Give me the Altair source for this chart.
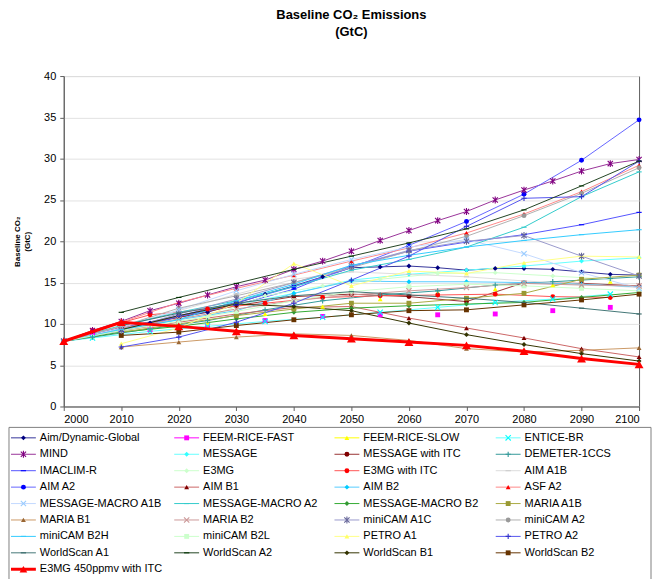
import altair as alt
import pandas as pd

# ---------------- data ----------------
Y10 = [2000, 2010, 2020, 2030, 2040, 2050, 2060, 2070, 2080, 2090, 2100]
Y10_2010 = [2010, 2020, 2030, 2040, 2050, 2060, 2070, 2080, 2090, 2100]
Y5 = [2000, 2005, 2010, 2015, 2020, 2025, 2030, 2035, 2040, 2045, 2050,
      2055, 2060, 2065, 2070, 2075, 2080, 2085, 2090, 2095, 2100]
Y_ODD = [2005, 2015, 2025, 2035, 2045, 2055, 2065, 2075, 2085, 2095]
Y_ODD0 = [2000, 2005, 2015, 2025, 2035, 2045, 2055, 2065, 2075, 2085, 2095]
Y_DEM = [2000, 2005, 2015, 2025, 2035, 2045, 2055, 2065, 2075, 2085, 2095, 2100]

aim_dynamic = [7.9, 8.8, 9.4, 10.1, 10.8, 11.4, 12.5, 13.6, 14.6, 15.7, 16.8,
               16.9, 17.0, 16.8, 16.5, 16.7, 16.7, 16.6, 16.3, 16.0, 15.9]
feem_fast = [8.6, 9.3, 9.8, 10.4, 10.9, 11.1, 11.1, 11.2, 11.6, 12.0]
feem_slow = [8.5, 9.5, 10.1, 11.2, 12.1, 13.0, 13.8, 14.2, 14.7, 15.1]
entice = [7.9, 8.3, 9.1, 9.7, 10.3, 10.8, 11.4, 12.0, 12.6, 13.0, 13.6]
mind = [7.9, 9.2, 10.3, 11.6, 12.5, 13.5, 14.5, 15.3, 16.6, 17.6, 18.8,
        20.1, 21.3, 22.5, 23.6, 25.0, 26.2, 27.3, 28.5, 29.4, 29.9]
message = [7.9, 9.4, 10.9, 12.3, 13.7, 15.3, 16.0, 16.5, 17.0, 17.6, 18.0]
message_itc = [7.9, 9.6, 10.8, 12.2, 13.3, 13.6, 13.3, 12.7, 15.0, 14.9, 14.6]
demeter = [7.9, 8.4, 9.4, 10.4, 11.7, 12.8, 13.5, 14.0, 14.7, 15.1, 15.5, 15.7]
imaclim = [7.9, 9.1, 10.9, 12.3, 14.2, 17.0, 18.8, 19.9, 20.8, 22.0, 23.5]
e3mg = [7.9, 8.5, 9.7, 10.8, 13.4, 14.6, 15.4, 16.1, 16.2, 15.8, 15.4]
e3mg_itc = [7.9, 9.2, 11.1, 11.8, 12.5, 13.2, 13.4, 13.5, 13.6, 13.3, 13.2]
aim_a1b = [7.9, 9.7, 11.6, 13.6, 15.4, 16.3, 16.0, 15.7, 15.2, 14.8, 14.4]
aim_a2 = [7.9, 9.5, 11.0, 12.6, 14.5, 16.8, 19.5, 22.4, 25.7, 29.8, 34.7]
aim_b1 = [7.9, 9.2, 10.2, 11.2, 12.0, 12.1, 10.7, 9.5, 8.3, 7.0, 6.0]
aim_b2 = [7.9, 9.3, 10.5, 11.6, 13.7, 15.2, 15.1, 15.1, 15.0, 14.8, 14.5]
asf_a2 = [7.9, 10.2, 12.6, 14.3, 15.9, 17.6, 19.2, 21.0, 23.3, 26.0, 29.2]
mm_a1b = [7.9, 9.5, 11.7, 14.0, 16.0, 17.8, 19.3, 20.2, 18.5, 16.2, 14.3]
mm_a2 = [7.9, 9.8, 11.4, 12.8, 14.5, 16.5, 17.8, 19.3, 21.7, 25.4, 28.4]
mm_b2 = [7.9, 9.0, 9.7, 10.6, 11.4, 11.9, 12.2, 12.4, 12.6, 13.2, 13.8]
maria_a1b = [9.0, 10.0, 11.0, 11.8, 12.5, 12.5, 13.1, 13.7, 15.4, 15.9]
maria_b1 = [7.2, 7.8, 8.4, 8.8, 8.6, 8.0, 7.0, 6.6, 6.8, 7.1]
maria_b2 = [9.5, 10.6, 11.8, 12.8, 13.5, 14.0, 14.4, 14.9, 14.7, 14.6]
minicam_a1c = [7.9, 9.2, 11.2, 13.0, 15.0, 17.0, 18.9, 20.0, 20.7, 18.2, 15.8]
minicam_a2 = [7.9, 9.7, 11.9, 13.4, 15.0, 16.8, 18.8, 20.6, 23.1, 25.8, 28.9]
minicam_b2h = [7.9, 9.3, 10.5, 12.8, 14.8, 17.1, 18.3, 19.3, 20.1, 20.8, 21.4]
minicam_b2l = [7.9, 9.2, 10.3, 11.5, 12.8, 13.9, 14.5, 14.8, 14.6, 14.3, 14.0]
petro_a1 = [7.6, 9.5, 12.5, 17.3, 14.6, 16.4, 16.1, 17.4, 18.2, 18.1]
petro_a2 = [7.2, 8.4, 10.2, 12.5, 15.3, 18.2, 21.8, 25.2, 25.4, 29.7]
ws_a1 = [9.8, 11.3, 12.5, 13.4, 13.9, 13.5, 13.1, 12.6, 11.9, 11.2]
ws_a2 = [11.4, 13.2, 14.9, 16.6, 18.2, 19.8, 21.5, 23.8, 26.7, 29.7]
ws_b1 = [9.3, 11.0, 12.4, 12.1, 11.6, 10.1, 8.7, 7.5, 6.4, 5.5]
ws_b2 = [8.6, 9.0, 9.8, 10.5, 11.1, 11.6, 11.7, 12.3, 12.9, 13.6]
e3mg_450 = [7.9, 10.2, 9.7, 9.1, 8.6, 8.2, 7.8, 7.4, 6.7, 5.8, 5.1]

NAMES = ["Aim/Dynamic-Global", "FEEM-RICE-FAST", "FEEM-RICE-SLOW", "ENTICE-BR",
         "MIND", "MESSAGE", "MESSAGE with ITC", "DEMETER-1CCS",
         "IMACLIM-R", "E3MG", "E3MG with ITC", "AIM A1B",
         "AIM A2", "AIM B1", "AIM B2", "ASF A2",
         "MESSAGE-MACRO A1B", "MESSAGE-MACRO A2", "MESSAGE-MACRO B2", "MARIA A1B",
         "MARIA B1", "MARIA B2", "miniCAM A1C", "miniCAM A2",
         "miniCAM B2H", "miniCAM B2L", "PETRO A1", "PETRO A2",
         "WorldScan A1", "WorldScan A2", "WorldScan B1", "WorldScan B2",
         "E3MG 450ppmv with ITC"]
YEARS = [Y5, Y_ODD, Y_ODD, Y_ODD0,
         Y5, Y10, Y10, Y_DEM,
         Y10, Y_ODD0, Y_ODD0, Y10,
         Y10, Y10, Y10, Y10,
         Y10, Y10, Y10, Y10_2010,
         Y10_2010, Y10_2010, Y10, Y10,
         Y10, Y10, Y10_2010, Y10_2010,
         Y10_2010, Y10_2010, Y10_2010, Y10_2010,
         Y10]
VALUES = [aim_dynamic, feem_fast, feem_slow, entice,
          mind, message, message_itc, demeter,
          imaclim, e3mg, e3mg_itc, aim_a1b,
          aim_a2, aim_b1, aim_b2, asf_a2,
          mm_a1b, mm_a2, mm_b2, maria_a1b,
          maria_b1, maria_b2, minicam_a1c, minicam_a2,
          minicam_b2h, minicam_b2l, petro_a1, petro_a2,
          ws_a1, ws_a2, ws_b1, ws_b2,
          e3mg_450]

# ---------------- styles ----------------
X_PATH = "M-1,-1L1,1M-1,1L1,-1"
PLUS_PATH = "M-1,0L1,0M0,-1L0,1"
STAR_PATH = "M-1,-1L1,1M-1,1L1,-1M0,-1.3L0,1.3"
DASH_PATH = "M-1,0L1,0"

LINE_COLORS = ["#333399", "#ff00ff", "#ffff00", "#66ffff",
               "#993399", "#66ffff", "#993333", "#339999",
               "#5555ff", "#ccffcc", "#ff5555", "#dddddd",
               "#6666ff", "#cc6666", "#55ccff", "#ff8888",
               "#c4daff", "#33cccc", "#33aa33", "#aaaa44",
               "#cc9966", "#cc9999", "#9999cc", "#b0b0b0",
               "#33ccff", "#ccffcc", "#ffff88", "#5555ee",
               "#447777", "#224422", "#333300", "#663300",
               "#ff0000"]
MARKER_COLORS = ["#000080", "#ff00ff", "#ffff00", "#00ffff",
                 "#800080", "#33ffff", "#800000", "#339999",
                 "#0000ff", "#ccffcc", "#ff0000", "#cccccc",
                 "#0000ff", "#800000", "#00ccff", "#ff0000",
                 "#99ccff", "#33cccc", "#339933", "#999933",
                 "#996633", "#cc9999", "#666699", "#999999",
                 "#33ccff", "#ccffcc", "#ffff66", "#3333cc",
                 "#336666", "#003300", "#333300", "#663300",
                 "#ff0000"]
SHAPES = ["diamond", "square", "triangle-up", X_PATH,
          STAR_PATH, "diamond", "circle", PLUS_PATH,
          DASH_PATH, "diamond", "circle", DASH_PATH,
          "circle", "triangle-up", "diamond", "triangle-up",
          X_PATH, DASH_PATH, "diamond", "square",
          "triangle-up", X_PATH, STAR_PATH, "circle",
          DASH_PATH, "square", "triangle-up", PLUS_PATH,
          DASH_PATH, DASH_PATH, "diamond", "square",
          "triangle-up"]
FILLED_SHAPES = {"diamond", "square", "triangle-up", "circle"}
NO_LINE = {"FEEM-RICE-FAST", "FEEM-RICE-SLOW"}
BIG = "E3MG 450ppmv with ITC"

rows = []
for name, yrs, vals, shp in zip(NAMES, YEARS, VALUES, SHAPES):
    for yr, v in zip(yrs, vals):
        rows.append({"name": name, "year": yr, "value": v,
                     "filled": shp in FILLED_SHAPES,
                     "lined": name not in NO_LINE,
                     "big": name == BIG})
df = pd.DataFrame(rows)

color_sc = alt.Scale(domain=NAMES, range=LINE_COLORS)
fill_sc = alt.Scale(domain=NAMES, range=MARKER_COLORS)
shape_sc = alt.Scale(domain=NAMES, range=SHAPES)

FONT = "Liberation Sans"
AX = "#606060"
x_enc = alt.X("year:Q", scale=alt.Scale(domain=[2000, 2100], nice=False),
              axis=alt.Axis(values=Y10, format="d", title=None, grid=False,
                            labelFontSize=11, labelColor="#000000",
                            domainColor=AX, tickColor=AX,
                            tickSize=4, labelPadding=3))
y_enc = alt.Y("value:Q", scale=alt.Scale(domain=[0, 40], nice=False),
              axis=alt.Axis(values=[0, 5, 10, 15, 20, 25, 30, 35, 40],
                            title=["Baseline CO\u2082", "(GtC)"],
                            titleFontSize=8, titleFontWeight="bold",
                            titleLineHeight=10, titlePadding=12,
                            labelFontSize=11, labelColor="#000000",
                            domainColor=AX, tickColor=AX,
                            tickSize=4, labelPadding=4,
                            grid=True, gridColor="#e2e2e2"))

base = alt.Chart(df)
lines = base.transform_filter("datum.lined && !datum.big").mark_line(
    strokeWidth=1).encode(
    x=x_enc, y=y_enc,
    color=alt.Color("name:N", scale=color_sc, legend=None),
    order="year:Q")
filled_pts = base.transform_filter("datum.filled && !datum.big").mark_point(
    filled=True, opacity=1, size=24, strokeWidth=0).encode(
    x=x_enc, y=y_enc,
    fill=alt.Fill("name:N", scale=fill_sc, legend=None),
    shape=alt.Shape("name:N", scale=shape_sc, legend=None))
stroked_pts = base.transform_filter("!datum.filled").mark_point(
    filled=False, opacity=1, size=28, strokeWidth=1.1).encode(
    x=x_enc, y=y_enc,
    stroke=alt.Stroke("name:N", scale=fill_sc, legend=None),
    shape=alt.Shape("name:N", scale=shape_sc, legend=None))
big_line = base.transform_filter("datum.big").mark_line(
    strokeWidth=3, color="#ff0000").encode(x=x_enc, y=y_enc, order="year:Q")
big_pts = base.transform_filter("datum.big").mark_point(
    filled=True, opacity=1, size=80, shape="triangle-up",
    color="#ff0000").encode(x=x_enc, y=y_enc)

main = alt.layer(lines, filled_pts, stroked_pts, big_line, big_pts)

# ---------------- legend (drawn in pixel space below the plot) ----------------
COL_X = [-53, 111, 272, 434]
leg_rows = []
for i, (name, shp) in enumerate(zip(NAMES, SHAPES)):
    col, row = i % 4, i // 4
    lx = COL_X[col]
    ly = 363.5 + row * 16.5
    leg_rows.append({"name": name, "lx": lx, "lx2": lx + 25, "mx": lx + 12.5,
                     "tx": lx + 29, "ly": ly,
                     "filled": shp in FILLED_SHAPES, "big": name == BIG})
ldf = pd.DataFrame(leg_rows)
lb = alt.Chart(ldf)
px = lambda f: alt.X(f, scale=None, axis=None)
py = lambda f: alt.Y(f, scale=None, axis=None)

box = alt.Chart(pd.DataFrame({"a": [0]})).mark_rect(
    fill="white", stroke="#808080", strokeWidth=1).encode(
    x=alt.value(-55), x2=alt.value(590), y=alt.value(353), y2=alt.value(515))
leg_lines = lb.transform_filter("!datum.big").mark_rule(strokeWidth=1).encode(
    x=px("lx:Q"), x2="lx2:Q", y=py("ly:Q"),
    color=alt.Color("name:N", scale=color_sc, legend=None))
leg_big_line = lb.transform_filter("datum.big").mark_rule(
    strokeWidth=3, color="#ff0000").encode(x=px("lx:Q"), x2="lx2:Q", y=py("ly:Q"))
leg_filled = lb.transform_filter("datum.filled && !datum.big").mark_point(
    filled=True, opacity=1, size=24, strokeWidth=0).encode(
    x=px("mx:Q"), y=py("ly:Q"),
    fill=alt.Fill("name:N", scale=fill_sc, legend=None),
    shape=alt.Shape("name:N", scale=shape_sc, legend=None))
leg_stroked = lb.transform_filter("!datum.filled").mark_point(
    filled=False, opacity=1, size=28, strokeWidth=1.1).encode(
    x=px("mx:Q"), y=py("ly:Q"),
    stroke=alt.Stroke("name:N", scale=fill_sc, legend=None),
    shape=alt.Shape("name:N", scale=shape_sc, legend=None))
leg_big_pt = lb.transform_filter("datum.big").mark_point(
    filled=True, opacity=1, size=60, shape="triangle-up",
    color="#ff0000").encode(x=px("mx:Q"), y=py("ly:Q"))
leg_text = lb.mark_text(align="left", baseline="middle", fontSize=11,
                        font=FONT, color="#000000").encode(
    x=px("tx:Q"), y=py("ly:Q"), text="name:N")

legend = alt.layer(box, leg_lines, leg_big_line, leg_filled, leg_stroked,
                   leg_big_pt, leg_text)

chart = alt.layer(main, legend).resolve_scale(
    x="independent", y="independent"
).properties(
    width=578, height=332,
    padding={"left": 0, "top": 0, "right": 0, "bottom": 0},
    title=alt.TitleParams(["Baseline CO\u2082 Emissions", "(GtC)"],
                          fontSize=13, fontWeight="bold", font=FONT,
                          anchor="middle", lineHeight=17, offset=31,
                          color="#000000"),
).configure(font=FONT).configure_view(stroke=AX, strokeWidth=1)

chart.save("out.html", embed_options={"renderer": "svg", "actions": False})
